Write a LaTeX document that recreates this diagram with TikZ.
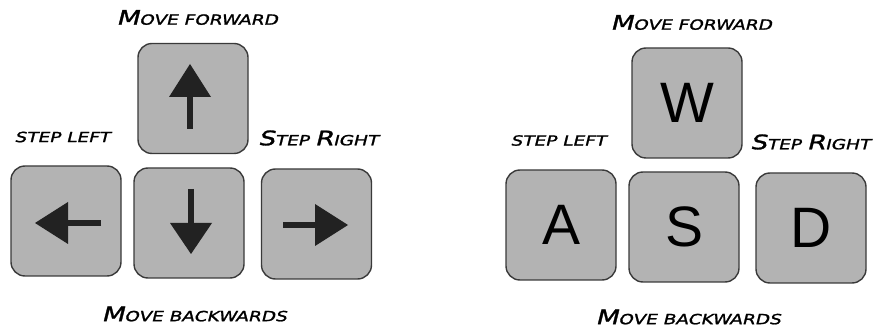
\documentclass[tikz,border=0pt]{standalone}
\usepackage{fontspec}
\setmainfont{Liberation Sans}
\newfontfamily\comic[FakeStretch=1.32,FakeSlant=0.25,FakeBold=1.5]{DejaVu Sans}
\newcommand{\bigc}[1]{{\fontsize{20}{20}\selectfont #1}}
\newcommand{\smc}[1]{{\fontsize{14}{14}\selectfont #1}}
\definecolor{keyfill}{HTML}{B3B3B3}
\definecolor{keyline}{HTML}{3A3A3A}
\definecolor{arrowc}{HTML}{222222}
\begin{document}
\begin{tikzpicture}[x=1pt,y=-1pt,
  keybox/.style={draw=keyline,line width=1.4pt,fill=keyfill,rounded corners=14pt,
    minimum width=110pt,minimum height=110pt,inner sep=0pt,
    font=\fontsize{57}{57}\selectfont},
  lbl/.style={inner sep=0pt,font=\comic,text=black},
  shaft/.style={draw=arrowc,line width=6.5pt},
  head/.style={fill=arrowc,draw=none}]
\useasboundingbox (0,0) rectangle (877,328);
% left panel
\node[keybox] (up) at (193,98.5) {};
\node[keybox] (lf) at (66,221) {};
\node[keybox] (dn) at (189,223) {};
\node[keybox] (rt) at (316.5,224) {};
\begin{scope}[shift={(up.center)}]
  \draw[shaft] (-3,-3) -- (-3,30.5);
  \fill[head] (-3,-34.5) -- (-24,-1.5) -- (18,-1.5) -- cycle;
\end{scope}
\begin{scope}[shift={(dn.center)}]
  \draw[shaft] (2,-34) -- (2,2);
  \fill[head] (2,31) -- (-19,0) -- (23,0) -- cycle;
\end{scope}
\begin{scope}[shift={(lf.center)}]
  \draw[shaft] (35,2) -- (0,2);
  \fill[head] (-31,2) -- (2,-19) -- (2,23) -- cycle;
\end{scope}
\begin{scope}[shift={(rt.center)}]
  \draw[shaft] (-33.5,1) -- (0,1);
  \fill[head] (31.5,1) -- (-1.5,-20) -- (-1.5,22) -- cycle;
\end{scope}
\node[lbl] (mf1) at (197,17.5) {\bigc{M}\smc{OVE FORWARD}};
\node[lbl] (sl1) at (62,137) {\smc{STEP LEFT}};
\node[lbl] (sr1) at (318,138) {\bigc{S}\smc{TEP }\bigc{R}\smc{IGHT}};
\node[lbl] (mb1) at (194,314) {\bigc{M}\smc{OVE BACKWARDS}};
% right panel
\node[keybox] (w) at (687,103) {W};
\node[keybox] (a) at (561,225) {A};
\node[keybox] (s) at (684,227) {S};
\node[keybox] (d) at (811,228) {D};
\node[lbl] (mf2) at (691,22.5) {\bigc{M}\smc{OVE FORWARD}};
\node[lbl] (sl2) at (558,140.5) {\smc{STEP LEFT}};
\node[lbl] (sr2) at (810,142) {\bigc{S}\smc{TEP }\bigc{R}\smc{IGHT}};
\node[lbl] (mb2) at (688,317) {\bigc{M}\smc{OVE BACKWARDS}};
\end{tikzpicture}
\end{document}
